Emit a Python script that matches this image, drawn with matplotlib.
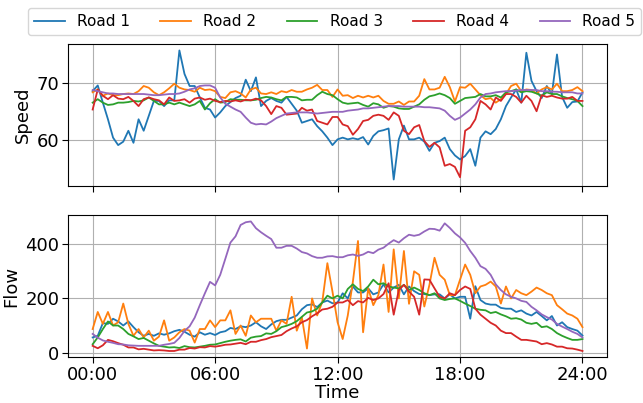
import numpy as np
import matplotlib
matplotlib.use('Agg')
import matplotlib.pyplot as plt

# time axis, one sample every 15 minutes
hours = np.arange(97) * 0.25
tick_hours = [0, 6, 12, 18, 24]
tick_labels = ['00:00', '06:00', '12:00', '18:00', '24:00']
road_names = ['Road 1', 'Road 2', 'Road 3', 'Road 4', 'Road 5']

# speed per road
speed_road1 = [
    68.5, 69.5, 66.5, 63.6, 60.4, 59.1, 59.7, 61.6,
    59.5, 63.6, 61.6, 64.2, 66.8, 66.8, 65.9, 66.9,
    66.9, 75.6, 71.5, 69.4, 69.4, 67.4, 65.6, 65.3,
    63.9, 64.8, 65.9, 66.6, 67.3, 67.7, 70.5, 68.5,
    70.9, 65.9, 66.8, 67.3, 66.8, 66.5, 67.5, 66.3,
    65.1, 63.0, 63.3, 63.6, 62.4, 61.5, 60.4, 59.1,
    60.1, 60.4, 60.1, 60.3, 60.1, 60.5, 59.2, 60.7,
    61.5, 61.7, 62.0, 53.1, 60.1, 62.5, 60.1, 60.1,
    60.4, 59.7, 58.1, 59.5, 59.8, 60.4, 58.4, 57.3,
    56.6, 57.2, 58.4, 55.5, 60.4, 61.5, 61.0, 61.9,
    63.6, 65.9, 67.4, 68.8, 66.5, 75.2, 70.3, 68.5,
    67.3, 69.4, 68.0, 74.9, 67.5, 65.6, 66.6, 66.7,
    68.3]
speed_road2 = [
    68.3, 68.8, 67.7, 68.1, 67.8, 67.8, 68.0, 68.1,
    68.0, 68.5, 69.4, 69.1, 68.3, 67.8, 68.3, 69.0,
    69.8, 69.1, 68.8, 68.7, 68.4, 69.1, 68.7, 68.8,
    68.5, 67.5, 67.3, 68.3, 68.5, 68.1, 67.4, 68.8,
    69.1, 68.1, 68.0, 68.3, 68.0, 68.5, 68.3, 68.7,
    68.4, 68.4, 68.8, 69.1, 69.6, 68.7, 68.7, 67.5,
    68.8, 67.7, 67.8, 67.3, 67.7, 67.4, 67.7, 67.4,
    67.7, 66.8, 66.3, 66.3, 66.7, 66.1, 66.7, 66.7,
    67.7, 70.6, 68.8, 68.8, 69.1, 71.0, 69.2, 66.7,
    69.2, 69.1, 69.8, 68.8, 67.8, 67.1, 67.3, 66.5,
    67.1, 68.0, 69.4, 69.8, 68.5, 68.8, 68.7, 68.1,
    68.8, 69.2, 68.8, 69.8, 68.5, 68.5, 68.7, 69.2,
    68.5]
speed_road3 = [
    66.5, 67.1, 66.5, 66.1, 66.2, 66.5, 66.5, 66.6,
    66.8, 66.7, 66.9, 67.4, 66.8, 66.2, 66.2, 66.5,
    66.2, 66.5, 66.2, 65.9, 66.2, 66.8, 65.3, 66.4,
    67.1, 66.5, 66.6, 67.1, 67.0, 67.0, 66.9, 66.9,
    67.0, 67.3, 67.5, 67.4, 67.1, 66.9, 67.5, 67.5,
    67.4, 66.9, 67.0, 67.0, 67.8, 68.4, 68.0, 67.8,
    67.1, 66.5, 66.3, 66.4, 66.5, 66.1, 65.8, 66.4,
    66.2, 65.6, 65.9, 65.8, 65.5, 65.4, 65.4, 65.8,
    66.2, 67.0, 67.6, 67.8, 68.1, 67.8, 67.3, 66.3,
    66.8, 67.3, 67.4, 67.5, 68.0, 67.6, 67.6, 67.8,
    67.4, 68.3, 68.5, 68.8, 68.3, 68.5, 68.4, 68.1,
    67.7, 68.3, 68.0, 68.0, 67.6, 67.3, 67.1, 66.8,
    65.9]
speed_road4 = [
    65.3, 68.8, 67.7, 67.1, 67.8, 67.2, 67.1, 67.5,
    66.8, 65.9, 67.1, 67.4, 67.1, 66.9, 66.2, 67.4,
    66.8, 66.9, 67.1, 66.5, 67.2, 67.4, 67.0, 67.2,
    66.8, 66.6, 66.8, 66.7, 66.9, 66.7, 67.0, 66.9,
    67.2, 66.9, 65.9, 64.5, 65.9, 65.6, 64.4, 64.5,
    64.6, 65.6, 65.1, 65.3, 63.3, 63.0, 62.7, 64.0,
    64.0, 62.7, 62.4, 60.9, 61.9, 63.3, 63.5, 64.2,
    64.4, 64.2, 63.5, 64.8, 64.2, 61.6, 61.0, 62.2,
    62.6, 59.8, 58.8, 59.5, 58.7, 55.5, 55.8, 55.3,
    53.5, 61.6, 62.2, 63.6, 66.8, 66.2, 65.3, 67.4,
    66.8, 68.0, 68.0, 67.5, 66.5, 67.7, 66.8, 65.0,
    67.8, 67.5, 67.7, 67.4, 67.2, 67.2, 67.5, 66.8,
    66.8]
speed_road5 = [
    68.7, 68.5, 68.3, 68.1, 68.1, 68.0, 68.0, 68.0,
    68.0, 68.0, 68.0, 67.9, 67.8, 67.8, 67.9, 68.0,
    68.0, 68.1, 68.4, 68.8, 69.0, 69.4, 69.5, 69.5,
    69.1, 67.4, 66.3, 65.8, 65.3, 64.9, 63.9, 63.0,
    62.7, 62.8, 62.7, 63.2, 63.8, 64.2, 64.6, 64.7,
    64.8, 64.8, 64.8, 64.7, 64.6, 64.7, 64.8, 64.9,
    64.9, 64.9, 65.1, 65.2, 65.3, 65.5, 65.5, 65.6,
    65.7, 65.8, 65.9, 65.9, 65.9, 65.8, 65.8, 65.8,
    65.8, 65.7, 65.7, 65.6, 65.5, 65.1, 64.2, 63.5,
    63.9, 64.6, 65.3, 66.2, 67.4, 68.0, 68.1, 68.3,
    68.4, 68.5, 68.5, 68.6, 68.7, 68.7, 68.7, 68.7,
    68.5, 68.5, 68.4, 68.4, 68.3, 68.3, 68.3, 68.1,
    68.1]

# flow per road
flow_road1 = [
    56, 62, 109, 106, 125, 115, 100, 115,
    94, 75, 62, 69, 62, 71, 66, 71,
    79, 84, 77, 66, 59, 75, 66, 72,
    65, 75, 79, 91, 87, 97, 94, 100,
    112, 97, 87, 104, 116, 121, 121, 129,
    137, 160, 175, 178, 168, 185, 192, 182,
    185, 219, 200, 244, 222, 222, 237, 215,
    222, 252, 222, 240, 250, 215, 244, 227,
    216, 216, 212, 215, 215, 200, 215, 200,
    206, 206, 125, 245, 194, 181, 177, 177,
    165, 162, 162, 150, 156, 144, 137, 150,
    135, 119, 135, 100, 112, 94, 87, 81,
    63]
flow_road2 = [
    87, 150, 106, 150, 100, 112, 181, 106,
    62, 87, 56, 81, 44, 59, 119, 44,
    56, 75, 87, 81, 37, 87, 87, 119,
    94, 119, 119, 156, 69, 100, 62, 137,
    112, 125, 125, 125, 81, 119, 106, 206,
    81, 130, 15, 200, 137, 187, 330, 225,
    112, 50, 137, 262, 412, 75, 237, 175,
    212, 325, 150, 381, 200, 375, 180, 300,
    287, 170, 250, 350, 287, 269, 212, 212,
    269, 325, 287, 219, 244, 250, 262, 244,
    181, 244, 200, 231, 219, 212, 225, 240,
    231, 219, 212, 175, 160, 144, 137, 125,
    94]
flow_road3 = [
    31, 56, 87, 115, 100, 100, 87, 69,
    60, 50, 54, 44, 34, 25, 22, 19,
    20, 17, 24, 20, 19, 22, 25, 29,
    30, 35, 40, 44, 47, 49, 41, 55,
    59, 61, 71, 69, 79, 94, 99, 106,
    116, 132, 148, 152, 162, 185, 210, 200,
    210, 200, 235, 252, 235, 227, 244, 269,
    252, 256, 244, 240, 237, 250, 231, 240,
    231, 219, 212, 219, 200, 194, 198, 200,
    191, 181, 172, 162, 158, 156, 146, 150,
    141, 134, 125, 127, 122, 110, 106, 110,
    94, 97, 87, 72, 62, 54, 47, 47,
    50]
flow_road4 = [
    25, 16, 27, 47, 42, 35, 29, 19,
    19, 12, 14, 11, 8, 9, 8, 6,
    6, 11, 11, 17, 15, 20, 19, 24,
    22, 25, 29, 30, 33, 36, 31, 40,
    40, 46, 50, 57, 61, 65, 79, 89,
    97, 112, 120, 134, 145, 159, 162, 169,
    185, 185, 194, 175, 190, 185, 202, 194,
    200, 216, 256, 140, 231, 250, 225, 206,
    140, 270, 269, 237, 206, 200, 219, 212,
    231, 244, 235, 162, 140, 125, 110, 100,
    81, 72, 72, 59, 47, 47, 44, 41,
    31, 35, 30, 22, 22, 16, 15, 11,
    6]
flow_road5 = [
    69, 55, 45, 40, 36, 31, 30, 27,
    26, 25, 25, 25, 25, 25, 29, 32,
    36, 54, 80, 97, 129, 175, 219, 261,
    248, 287, 346, 406, 429, 471, 481, 484,
    459, 444, 431, 419, 387, 387, 394, 394,
    384, 371, 366, 356, 350, 350, 355, 356,
    352, 352, 359, 362, 357, 362, 372, 367,
    380, 387, 402, 415, 406, 422, 435, 431,
    435, 447, 457, 456, 450, 477, 460, 440,
    425, 405, 375, 350, 319, 309, 287, 252,
    231, 215, 206, 200, 191, 187, 169, 156,
    141, 131, 122, 106, 96, 87, 77, 69,
    56]

speeds = [speed_road1, speed_road2, speed_road3, speed_road4, speed_road5]
flows = [flow_road1, flow_road2, flow_road3, flow_road4, flow_road5]

fig = plt.figure(figsize=(6.43, 4.03), dpi=100)
ax1 = fig.add_axes([0.106, 0.5385, 0.838, 0.3524])
ax2 = fig.add_axes([0.106, 0.113, 0.838, 0.3536])

for speed, name in zip(speeds, road_names):
    ax1.plot(hours, speed, label=name, lw=1.3)
for flow, name in zip(flows, road_names):
    ax2.plot(hours, flow, label=name, lw=1.3)

for ax in (ax1, ax2):
    ax.set_xticks(tick_hours)
    ax.grid(True)
    ax.tick_params(labelsize=13, length=4, pad=2.2)

ax1.set_yticks([60, 70])
ax1.tick_params(labelbottom=False)
ax1.set_ylabel('Speed', fontsize=13, labelpad=3.6)

ax2.set_yticks([0, 200, 400])
ax2.set_xticklabels(tick_labels)
ax2.set_ylabel('Flow', fontsize=13, labelpad=3.6)
ax2.set_xlabel('Time', fontsize=13, labelpad=0)

handles, labels = ax1.get_legend_handles_labels()
fig.legend(handles, labels, loc='upper left', bbox_to_anchor=(28 / 643, 1 - 8 / 403),
           ncol=5, fontsize=11, borderaxespad=0)

fig.savefig('out.png', dpi=100)
